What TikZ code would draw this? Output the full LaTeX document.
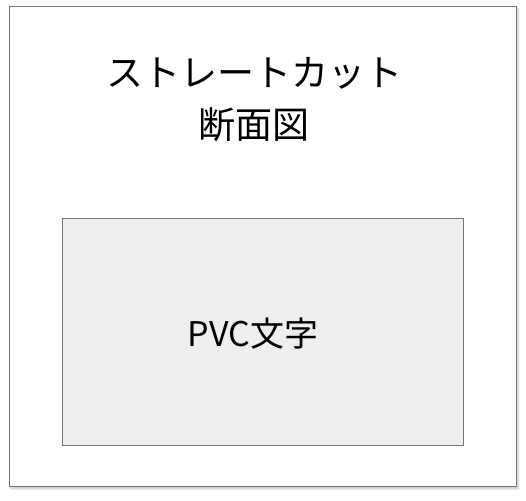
\documentclass[tikz,border=0pt]{standalone}
\usepackage{fontspec}
\setmainfont{Noto Sans CJK JP}
\usetikzlibrary{shadows.blur}
\definecolor{edge}{HTML}{777777}
\definecolor{panel}{HTML}{EEEEEE}
\tikzset{
  outerbox/.style={draw=edge, line width=1.1pt, fill=white, blur shadow={shadow xshift=1.5pt, shadow yshift=-2pt, shadow blur steps=6, shadow opacity=25}},
  innerbox/.style={draw=edge, line width=0.8pt, fill=panel},
  title/.style={font=\fontsize{37}{52}\selectfont, align=center, text=black},
  label/.style={font=\fontsize{34}{38}\selectfont, text=black}
}
\begin{document}
\begin{tikzpicture}[x=1pt,y=-1pt]
\useasboundingbox (0,0) rectangle (526,500);
\path[outerbox] (9.5,6.5) rectangle (516.5,486.5);
\node[title] (t) at (254,100) {ストレートカット\\断面図};
\path[innerbox] (62,218.5) rectangle (463.5,445);
\node[label] (p) at (253,334) {PVC文字};
\end{tikzpicture}
\end{document}
